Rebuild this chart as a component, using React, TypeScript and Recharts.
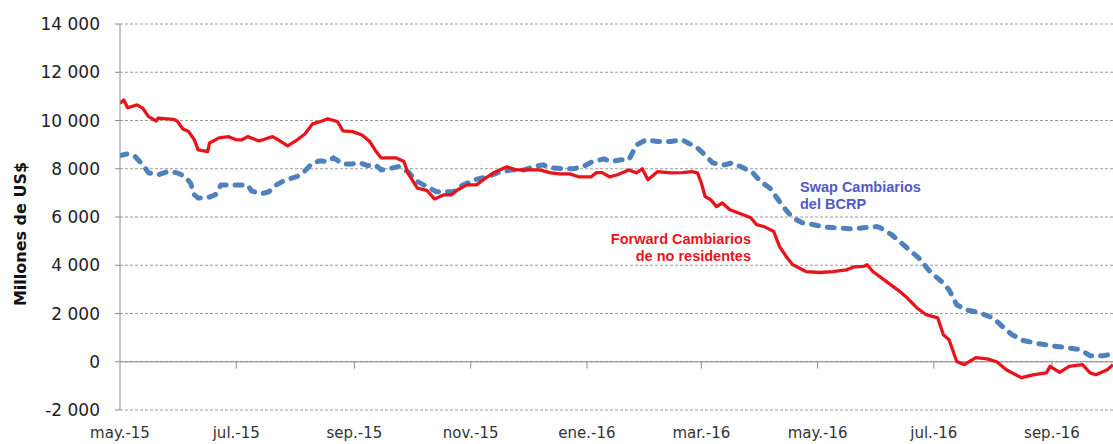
import React from 'react';
import {
  LineChart,
  Line,
  XAxis,
  YAxis,
  CartesianGrid,
  ReferenceLine,
  Customized,
} from 'recharts';

// Days since 1 May 2015
const xTickDays = [0, 61, 123, 184, 245, 305, 366, 427, 489];
const xTickLabels = ['may.-15', 'jul.-15', 'sep.-15', 'nov.-15', 'ene.-16', 'mar.-16', 'may.-16', 'jul.-16', 'sep.-16'];
const yTicks = [-2000, 0, 2000, 4000, 6000, 8000, 10000, 12000, 14000];

// Forward Cambiarios de no residentes (millones de US$)
const forwardDays = [
  0, 2, 4, 9, 12, 15, 19, 20, 28, 30, 33, 36, 39, 41, 44, 46, 47, 52, 57, 61,
  64, 67, 73, 80, 83, 88, 93, 97, 101, 106, 109, 114, 117, 122, 127, 131, 134, 137, 145, 149,
  151, 156, 161, 165, 170, 174, 177, 182, 187, 192, 196, 203, 208, 215, 220, 226, 231, 236, 241, 247,
  250, 253, 257, 261, 267, 271, 274, 277, 282, 289, 295, 300, 303, 305, 307, 310, 313, 316, 320, 327,
  331, 334, 338, 343, 346, 350, 353, 360, 367, 374, 381, 385, 390, 392, 395, 402, 408, 413, 418, 423,
  429, 432, 435, 439, 443, 449, 455, 460, 465, 473, 479, 486, 488, 493, 498, 505, 509, 512, 518, 521,
];
const forwardValues = [
  10720, 10850, 10530, 10650, 10500, 10160, 9980, 10100, 10050, 9980, 9650, 9540, 9200, 8780, 8740, 8710, 9070, 9280, 9330, 9200,
  9200, 9330, 9150, 9330, 9200, 8950, 9200, 9440, 9860, 9980, 10070, 9960, 9570, 9540, 9400, 9130, 8760, 8450, 8450, 8300,
  7830, 7200, 7100, 6750, 6920, 6920, 7120, 7330, 7330, 7620, 7830, 8080, 7950, 7950, 7950, 7830, 7790, 7790, 7660, 7660,
  7840, 7840, 7660, 7750, 7950, 7830, 8000, 7540, 7880, 7830, 7840, 7880, 7830, 7410, 6850, 6710, 6430, 6580, 6300, 6090,
  5970, 5680, 5600, 5400, 4780, 4310, 4020, 3740, 3700, 3740, 3810, 3930, 3950, 4020, 3740, 3330, 2980, 2650, 2240, 1950,
  1820, 1120, 910, 10, -120, 170, 120, 0, -330, -660, -540, -460, -190, -440, -190, -120, -460, -540, -330, -120,
];

// Swap Cambiarios del BCRP (millones de US$)
const swapDays = [
  0, 4, 8, 12, 15, 20, 25, 30, 34, 37, 39, 41, 46, 50, 53, 57, 62, 67, 69, 74,
  78, 82, 87, 93, 97, 101, 105, 109, 112, 117, 122, 126, 130, 134, 137, 141, 146, 151, 156, 161,
  166, 172, 175, 180, 186, 193, 198, 205, 212, 217, 222, 226, 233, 238, 243, 248, 254, 257, 263, 267,
  271, 276, 282, 289, 295, 298, 303, 307, 311, 317, 321, 327, 332, 336, 341, 346, 350, 353, 358, 364,
  369, 376, 383, 390, 397, 399, 405, 412, 419, 425, 431, 435, 439, 444, 451, 458, 463, 468, 474, 482,
  489, 497, 504, 509, 516, 521,
];
const swapValues = [
  8550, 8620, 8500, 8160, 7830, 7750, 7880, 7830, 7680, 7410, 6920, 6790, 6800, 6920, 7330, 7330, 7330, 7330, 7080, 6960,
  7040, 7330, 7540, 7680, 7910, 8240, 8330, 8300, 8450, 8200, 8200, 8240, 8130, 8160, 7950, 8000, 8090, 7880, 7470, 7260,
  7050, 7050, 7050, 7330, 7540, 7680, 7830, 7950, 7950, 8090, 8160, 8040, 8000, 8000, 8090, 8300, 8410, 8300, 8370, 8370,
  8990, 9200, 9130, 9130, 9200, 9070, 8860, 8570, 8240, 8160, 8240, 8040, 7830, 7470, 7200, 6640, 6230, 5970, 5760, 5680,
  5590, 5550, 5510, 5550, 5600, 5550, 5260, 4780, 4310, 3740, 3330, 2980, 2360, 2150, 2030, 1820, 1460, 1120, 880, 750,
  660, 580, 500, 250, 250, 330,
];

const forwardData = forwardDays.map((d, i) => ({ day: d, value: forwardValues[i] }));
const swapData = swapDays.map((d, i) => ({ day: d, value: swapValues[i] }));

const RED = '#e8141c';
const BLUE = '#4f81bd';
const GRID = '#9a9a9a';
const AXIS = '#8c8c8c';

const fmtY = (v: number) => {
  const s = Math.abs(v).toString();
  const withSpace = s.length > 3 ? s.slice(0, s.length - 3) + ' ' + s.slice(s.length - 3) : s;
  return (v < 0 ? '-' : '') + withSpace;
};
const fmtX = (v: number) => {
  const i = xTickDays.indexOf(v);
  return i >= 0 ? xTickLabels[i] : '';
};

const Annotations = () => (
  <g style={{ fontFamily: 'Liberation Sans, Arial, sans-serif', fontWeight: 'bold', fontSize: 14.5 }}>
    <text x={800} y={192} fill="#5159c6">Swap Cambiarios</text>
    <text x={800} y={209} fill="#5159c6">del BCRP</text>
    <text x={751} y={244} fill={RED} textAnchor="end">Forward Cambiarios</text>
    <text x={751} y={261} fill={RED} textAnchor="end">de no residentes</text>
  </g>
);

export default function App() {
  return (
    <div style={{ position: 'absolute', left: 0, top: 0, background: '#fff' }}>
      <LineChart
        width={1113}
        height={444}
        margin={{ top: 24, right: 0, bottom: 0, left: 0 }}
        style={{ fontFamily: 'DejaVu Sans, sans-serif' }}
      >
        <CartesianGrid horizontal vertical={false} stroke={GRID} strokeDasharray="3 2" />
        <XAxis
          type="number"
          dataKey="day"
          domain={[0, 521]}
          ticks={xTickDays}
          interval={0}
          allowDataOverflow
          tickFormatter={fmtX}
          axisLine={false}
          tickLine={false}
          tickSize={0}
          tickMargin={17}
          height={34}
          tick={{ fill: '#333', fontSize: 15, fontFamily: 'DejaVu Sans, sans-serif' }}
        />
        <YAxis
          type="number"
          domain={[-2000, 14000]}
          ticks={yTicks}
          interval={0}
          width={120}
          tickFormatter={fmtY}
          axisLine={{ stroke: AXIS }}
          tickLine={{ stroke: AXIS }}
          tickSize={5}
          tickMargin={15}
          tick={{ fill: '#222', fontSize: 17, fontFamily: 'DejaVu Sans, sans-serif' }}
          label={{
            content: () => (
              <text
                x={20}
                y={234}
                transform="rotate(-90 20 234)"
                textAnchor="middle"
                dominantBaseline="central"
                fill="#111"
                fontWeight="bold"
                fontSize={16}
                fontFamily="DejaVu Sans, sans-serif"
              >
                Millones de US$
              </text>
            ),
          }}
        />
        <ReferenceLine y={0} stroke={AXIS} strokeWidth={1} />
        {xTickDays.slice(1).map((d) => (
          <ReferenceLine
            key={d}
            segment={[
              { x: d, y: 0 },
              { x: d, y: -280 },
            ]}
            stroke={AXIS}
            strokeWidth={1}
          />
        ))}
        <Line
          data={swapData}
          dataKey="value"
          type="linear"
          stroke={BLUE}
          strokeWidth={5}
          strokeDasharray="7 9"
          strokeLinecap="round"
          dot={false}
          activeDot={false}
          isAnimationActive={false}
        />
        <Line
          data={forwardData}
          dataKey="value"
          type="linear"
          stroke={RED}
          strokeWidth={3.3}
          strokeLinejoin="round"
          dot={false}
          activeDot={false}
          isAnimationActive={false}
        />
        <Customized component={Annotations} />
      </LineChart>
    </div>
  );
}
